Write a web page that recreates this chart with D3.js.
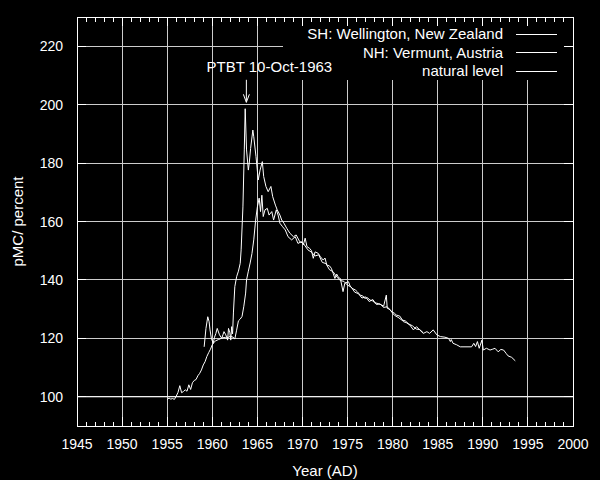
<!DOCTYPE html>
<html>
<head>
<meta charset="utf-8">
<script src="https://cdn.jsdelivr.net/npm/d3@7"></script>
<style>
  body { margin: 0; background: #000; }
  text { font-family: "Liberation Sans", Arial, sans-serif; font-size: 15px; fill: #fff; }
  text.tick { font-size: 14px; }
</style>
</head>
<body>
<div id="chart"></div>
<script>
// Southern hemisphere: Wellington, New Zealand  [year, pMC]
const shSeries = [
  [1955.0, 99.0], [1955.2, 99.6], [1955.4, 99.2], [1955.6, 99.4], [1955.8, 99.1],
  [1956.0, 100.2], [1956.2, 101.5], [1956.4, 103.8], [1956.6, 101.4], [1956.8, 101.8],
  [1957.0, 102.4], [1957.2, 101.9], [1957.4, 104.1], [1957.6, 102.5], [1957.8, 104.8],
  [1958.0, 105.6], [1958.2, 105.9], [1958.4, 107.2], [1958.6, 108.0], [1958.8, 109.2],
  [1959.0, 110.9], [1959.2, 112.0], [1959.4, 113.8], [1959.6, 115.1], [1959.8, 116.3],
  [1960.0, 117.8], [1960.2, 118.7], [1960.4, 119.2], [1960.7, 119.6], [1961.0, 120.0],
  [1961.3, 120.3], [1961.6, 120.1], [1962.0, 120.7], [1962.3, 120.4], [1962.5, 119.8],
  [1962.7, 122.8], [1962.9, 126.0], [1963.1, 126.6], [1963.3, 127.5], [1963.5, 131.0],
  [1963.7, 135.5], [1963.8, 140.0], [1964.0, 143.0], [1964.2, 145.8], [1964.4, 149.0],
  [1964.6, 153.7], [1964.8, 160.2], [1965.0, 165.0], [1965.2, 168.0], [1965.35, 163.4],
  [1965.5, 169.0], [1965.65, 161.7], [1965.85, 164.0], [1966.1, 164.5], [1966.3, 162.2],
  [1966.6, 163.4], [1966.8, 160.5], [1967.1, 164.0], [1967.3, 162.2], [1967.5, 159.4],
  [1967.8, 158.2], [1968.1, 157.1], [1968.4, 154.8], [1968.8, 153.7], [1969.2, 154.8],
  [1969.5, 152.5], [1969.9, 153.1], [1970.1, 152.0], [1970.3, 154.3], [1970.5, 151.4],
  [1970.8, 150.8], [1971.0, 150.0], [1971.2, 147.4], [1971.4, 149.6], [1971.75, 149.1],
  [1972.0, 147.9], [1972.3, 146.8], [1972.5, 147.5], [1972.7, 145.1], [1973.0, 144.8],
  [1973.2, 144.0], [1973.4, 142.3], [1973.6, 140.5], [1973.8, 142.0], [1974.0, 140.8],
  [1974.2, 140.5], [1974.5, 136.0], [1974.7, 138.9], [1975.1, 139.4], [1975.3, 137.8],
  [1975.5, 137.1], [1975.85, 136.6], [1976.1, 135.9], [1976.4, 134.8], [1976.7, 134.5],
  [1976.9, 133.7], [1977.2, 133.9], [1977.5, 133.1], [1977.8, 132.8], [1978.0, 132.2],
  [1978.4, 131.9], [1978.8, 131.4], [1979.0, 131.0], [1979.3, 134.8], [1979.4, 130.3],
  [1979.7, 129.9], [1979.9, 129.1], [1980.2, 128.6], [1980.4, 128.0], [1980.8, 127.6],
  [1981.2, 125.7], [1981.5, 125.4], [1981.9, 124.6], [1982.3, 122.9], [1982.65, 124.0],
  [1983.0, 122.9], [1983.4, 121.7], [1983.8, 122.3], [1984.1, 121.7], [1984.5, 122.9],
  [1984.9, 121.2], [1985.3, 120.6], [1985.8, 120.4], [1986.2, 120.0], [1986.4, 118.9],
  [1986.5, 119.6], [1986.7, 118.3], [1987.1, 117.8], [1987.5, 117.1], [1988.75, 117.1],
  [1989.0, 118.3], [1989.2, 117.2], [1989.4, 118.9], [1989.6, 116.6], [1989.9, 119.4],
  [1990.05, 116.0], [1990.4, 116.6], [1990.8, 116.0], [1991.1, 116.3], [1991.35, 116.6],
  [1991.7, 115.4], [1992.0, 116.2], [1992.3, 116.0], [1992.6, 114.8], [1992.8, 114.0],
  [1993.2, 113.5], [1993.6, 112.3]
];

// Northern hemisphere: Vermunt, Austria  [year, pMC]
const nhSeries = [
  [1959.1, 117.1], [1959.3, 123.4], [1959.5, 127.4], [1959.65, 125.7], [1959.75, 122.9],
  [1959.9, 120.0], [1960.1, 118.3], [1960.25, 120.4], [1960.4, 121.7], [1960.55, 123.4],
  [1960.8, 121.2], [1961.05, 120.0], [1961.2, 121.4], [1961.3, 122.3], [1961.5, 121.2],
  [1961.7, 119.4], [1961.8, 123.4], [1961.95, 121.9], [1962.05, 119.4], [1962.15, 124.0],
  [1962.25, 121.5], [1962.35, 129.0], [1962.5, 137.7], [1962.7, 141.1], [1962.9, 143.0],
  [1963.1, 145.7], [1963.2, 150.3], [1963.4, 165.0], [1963.55, 184.5], [1963.65, 198.6],
  [1963.8, 184.5], [1964.0, 177.6], [1964.1, 180.0], [1964.25, 185.0], [1964.5, 191.3],
  [1964.6, 189.0], [1964.85, 182.2], [1965.1, 174.2], [1965.3, 177.6], [1965.55, 180.5],
  [1965.7, 175.4], [1965.95, 172.0], [1966.2, 170.2], [1966.5, 172.0], [1966.7, 168.5],
  [1967.0, 165.6], [1967.2, 164.0], [1967.5, 162.2], [1967.7, 160.5], [1967.95, 159.4],
  [1968.25, 157.7], [1968.6, 156.0], [1969.0, 154.8], [1969.3, 155.4], [1969.7, 153.1],
  [1970.1, 152.5], [1970.6, 150.3], [1971.0, 149.5], [1971.4, 148.2], [1971.8, 148.6],
  [1972.2, 146.0], [1972.6, 145.6], [1973.0, 143.5], [1973.4, 142.8], [1973.8, 141.0],
  [1974.2, 139.8], [1974.6, 139.5], [1975.0, 138.2], [1975.4, 137.6], [1975.8, 135.8],
  [1976.2, 135.3], [1976.6, 133.8], [1977.0, 134.2], [1977.4, 132.6], [1977.8, 133.3],
  [1978.2, 131.6], [1978.6, 131.8], [1979.0, 130.6], [1979.4, 130.8], [1979.8, 129.4],
  [1980.2, 127.9], [1980.6, 127.2], [1981.0, 126.3], [1981.4, 126.0], [1981.8, 124.9],
  [1982.2, 124.3], [1982.6, 123.2], [1983.0, 123.0], [1983.4, 121.9]
];

// natural 14C level
const naturalLevel = [[1945, 100], [2000, 100]];

const seriesNames = ["SH: Wellington, New Zealand", "NH: Vermunt, Austria", "natural level"];
const xTicks = [1945, 1950, 1955, 1960, 1965, 1970, 1975, 1980, 1985, 1990, 1995, 2000];
const yTicks = [100, 120, 140, 160, 180, 200, 220];
const ptbt = { label: "PTBT 10-Oct-1963", year: 1963.78, from: 208.5, to: 200.8 };

const viewW = 600;
const viewH = 480;
const margin = { top: 17, right: 27, bottom: 54, left: 77 };
const width = viewW - margin.left - margin.right;
const height = viewH - margin.top - margin.bottom;

const svg = d3.select("#chart")
  .append("svg")
  .attr("width", viewW)
  .attr("height", viewH)
  .style("display", "block")
  .style("background", "#000");

const g = svg.append("g")
  .attr("transform", `translate(${margin.left},${margin.top})`);

const x = d3.scaleLinear().domain([1945, 2000]).range([0, width]);
const y = d3.scaleLinear().domain([90, 230]).range([height, 0]);

// grid
const gridColor = "#cccccc";
g.append("g").selectAll("line")
  .data(xTicks.slice(1, -1))
  .join("line")
  .attr("x1", d => x(d)).attr("x2", d => x(d))
  .attr("y1", 0).attr("y2", height)
  .attr("stroke", gridColor).attr("stroke-width", 1)
  .attr("shape-rendering", "crispEdges");
g.append("g").selectAll("line")
  .data(yTicks)
  .join("line")
  .attr("x1", 0).attr("x2", width)
  .attr("y1", d => y(d)).attr("y2", d => y(d))
  .attr("stroke", gridColor).attr("stroke-width", 1)
  .attr("shape-rendering", "crispEdges");

// opaque key box hides the grid behind the legend
const keyLeft = 206, keyBottom = 63;
g.append("rect")
  .attr("x", keyLeft).attr("y", 0)
  .attr("width", width - keyLeft).attr("height", keyBottom)
  .attr("fill", "#000");

// data lines
const line = d3.line().x(d => x(d[0])).y(d => y(d[1]));
[naturalLevel, nhSeries, shSeries].forEach(s => {
  g.append("path")
    .datum(s)
    .attr("d", line)
    .attr("fill", "none")
    .attr("stroke", "#fff")
    .attr("stroke-width", 1);
});

// frame
g.append("rect")
  .attr("x", 0).attr("y", 0)
  .attr("width", width).attr("height", height)
  .attr("fill", "none").attr("stroke", "#fff")
  .attr("shape-rendering", "crispEdges");

// ticks, gnuplot style (inward, both sides)
const major = 9, minor = 4.5;
const minorYears = d3.range(1946, 2000).filter(v => v % 5 !== 0);
const ticks = g.append("g")
  .attr("stroke", "#fff").attr("shape-rendering", "crispEdges");
xTicks.forEach(v => {
  ticks.append("line").attr("x1", x(v)).attr("x2", x(v)).attr("y1", height).attr("y2", height - major);
  ticks.append("line").attr("x1", x(v)).attr("x2", x(v)).attr("y1", 0).attr("y2", major);
});
minorYears.forEach(v => {
  ticks.append("line").attr("x1", x(v)).attr("x2", x(v)).attr("y1", height).attr("y2", height - minor);
  ticks.append("line").attr("x1", x(v)).attr("x2", x(v)).attr("y1", 0).attr("y2", minor);
});
yTicks.forEach(v => {
  ticks.append("line").attr("x1", 0).attr("x2", major).attr("y1", y(v)).attr("y2", y(v));
  ticks.append("line").attr("x1", width).attr("x2", width - major).attr("y1", y(v)).attr("y2", y(v));
});

// tick labels
g.append("g").selectAll("text")
  .data(xTicks)
  .join("text")
  .attr("class", "tick")
  .attr("x", d => x(d))
  .attr("y", height + 23)
  .attr("text-anchor", "middle")
  .text(d => d);
g.append("g").selectAll("text")
  .data(yTicks)
  .join("text")
  .attr("class", "tick")
  .attr("x", -14)
  .attr("y", d => y(d) + 5)
  .attr("text-anchor", "end")
  .text(d => d);

// axis titles
g.append("text")
  .attr("x", width / 2)
  .attr("y", height + 50)
  .attr("text-anchor", "middle")
  .text("Year (AD)");
g.append("text")
  .attr("transform", "rotate(-90)")
  .attr("x", -height / 2)
  .attr("y", -54)
  .attr("text-anchor", "middle")
  .text("pMC/ percent");

// PTBT annotation
g.append("text")
  .attr("x", x(ptbt.year) + 23)
  .attr("y", y(ptbt.from) - 8)
  .attr("text-anchor", "middle")
  .text(ptbt.label);
const ax = x(ptbt.year), ay1 = y(ptbt.from), ay2 = y(ptbt.to);
g.append("path")
  .attr("d", `M${ax},${ay1}L${ax},${ay2}M${ax - 3},${ay2 - 8}L${ax},${ay2}L${ax + 3},${ay2 - 8}`)
  .attr("fill", "none")
  .attr("stroke", "#fff")
  .attr("stroke-width", 1);

// legend
const legend = g.append("g");
seriesNames.forEach((name, i) => {
  const ly = 17 + i * 18.5;
  legend.append("text")
    .attr("x", 426)
    .attr("y", ly + 5)
    .attr("text-anchor", "end")
    .text(name);
  legend.append("line")
    .attr("x1", 439).attr("x2", 480)
    .attr("y1", ly).attr("y2", ly)
    .attr("stroke", "#fff")
    .attr("shape-rendering", "crispEdges");
});
</script>
</body>
</html>
